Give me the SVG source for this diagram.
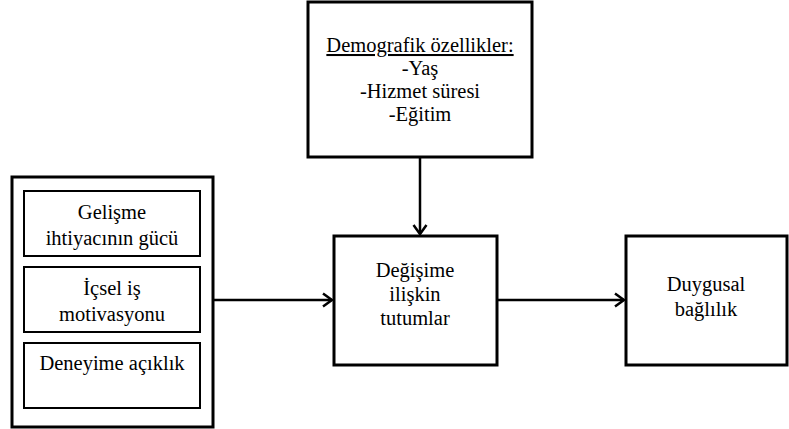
<svg xmlns="http://www.w3.org/2000/svg" width="789" height="429" viewBox="0 0 789 429">
<defs>
<style>
.box{fill:#fff;stroke:#000;stroke-width:3}
.inner{fill:#fff;stroke:#000;stroke-width:2}
.conn{stroke:#000;stroke-width:2.5;fill:none}
.t{font-family:"Times New Roman","Liberation Serif",Times,serif;font-size:20.5px;text-anchor:middle;fill:#000}
</style>
<marker id="arr" markerWidth="14" markerHeight="16" refX="11" refY="8" orient="auto" markerUnits="userSpaceOnUse">
<path d="M2,1.5 L11,8 L2,14.5" fill="none" stroke="#000" stroke-width="2.5"/>
</marker>
</defs>
<g id="connectors">
<line class="conn" x1="214" y1="300" x2="332" y2="300" marker-end="url(#arr)"/>
<line class="conn" x1="420" y1="157" x2="420" y2="234" marker-end="url(#arr)"/>
<line class="conn" x1="497" y1="300" x2="624" y2="300" marker-end="url(#arr)"/>
</g>
<g id="left-group">
<rect class="box" x="12" y="177" width="201" height="250"/>
</g>
<g id="gelisme">
<rect class="inner" x="24" y="191" width="176" height="65"/>
<text class="t" x="112" y="219">Gelişme</text>
<text class="t" x="112" y="245">ihtiyacının gücü</text>
</g>
<g id="icsel">
<rect class="inner" x="24" y="267" width="176" height="65"/>
<text class="t" x="112" y="295">İçsel iş</text>
<text class="t" x="112" y="321">motivasyonu</text>
</g>
<g id="deneyime">
<rect class="inner" x="24" y="343" width="176" height="65"/>
<text class="t" x="112" y="370">Deneyime açıklık</text>
</g>
<g id="demografik">
<rect class="box" x="308" y="2" width="224" height="155"/>
<text class="t" x="420" y="52" text-decoration="underline">Demografik özellikler:</text>
<text class="t" x="420" y="75">-Yaş</text>
<text class="t" x="420" y="98">-Hizmet süresi</text>
<text class="t" x="420" y="121">-Eğitim</text>
</g>
<g id="degisime">
<rect class="box" x="334" y="236" width="163" height="129"/>
<text class="t" x="415" y="277">Değişime</text>
<text class="t" x="415" y="301">ilişkin</text>
<text class="t" x="415" y="325">tutumlar</text>
</g>
<g id="duygusal">
<rect class="box" x="626" y="236" width="161" height="129"/>
<text class="t" x="706" y="291">Duygusal</text>
<text class="t" x="706" y="316">bağlılık</text>
</g>
</svg>
